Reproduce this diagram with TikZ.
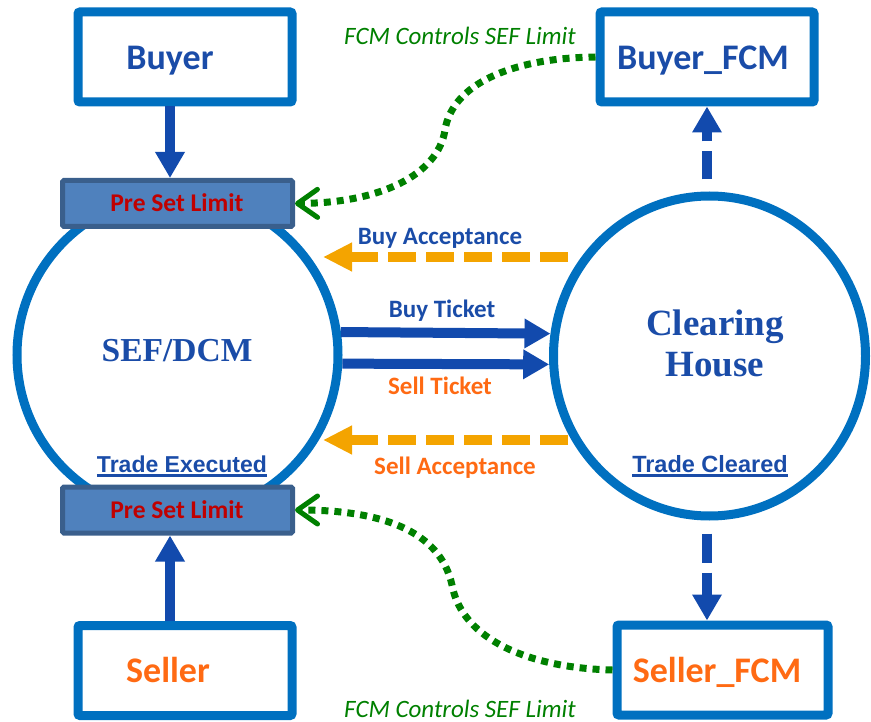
\documentclass[tikz,border=0pt]{standalone}
\usepackage{fontspec}
\setmainfont{Carlito}
\newfontfamily\serifbf{Liberation Serif}
\newfontfamily\arialf{Liberation Sans}
\usetikzlibrary{arrows.meta,calc,shapes.geometric}
\definecolor{outline}{HTML}{0070C0}
\definecolor{arrblue}{HTML}{124AAD}
\definecolor{txtblue}{HTML}{1A4CA8}
\definecolor{orangearr}{HTML}{F4A400}
\definecolor{orangetxt}{HTML}{FF6A13}
\definecolor{limred}{HTML}{C00000}
\definecolor{limfill}{HTML}{4F81BD}
\definecolor{limdraw}{HTML}{3A5F8C}
\definecolor{fcmgreen}{HTML}{008000}
\tikzset{
  partybox/.style={draw=outline, line width=9pt, minimum width=214pt, minimum height=90pt, rounded corners=2pt, inner sep=0pt},
  limitbox/.style={draw=limdraw, fill=limfill, line width=5pt, minimum width=230pt, minimum height=46pt, rounded corners=1.5pt, inner sep=0pt},
  hubcircle/.style={draw=outline, line width=9pt, circle, minimum size=321pt, inner sep=0pt},
  hubellipse/.style={draw=outline, line width=9pt, ellipse, minimum width=312pt, minimum height=320pt, inner sep=0pt},
  nametext/.style={font=\fontsize{36}{40}\selectfont\bfseries, anchor=base, inner sep=0pt},
  hubtext/.style={font=\serifbf\fontsize{36}{40}\selectfont\bfseries, text=txtblue, anchor=base, inner sep=0pt},
  limtext/.style={font=\fontsize{25.5}{28}\selectfont\bfseries, text=limred, anchor=base, inner sep=0pt},
  lbl/.style={font=\fontsize{25}{30}\selectfont\bfseries, anchor=base, inner sep=0pt},
  tradelbl/.style={font=\arialf\fontsize{23}{26}\selectfont\bfseries, text=txtblue, anchor=base, inner sep=0pt},
  fcmlbl/.style={font=\fontsize{25}{30}\selectfont\itshape, text=fcmgreen, anchor=base, inner sep=0pt},
  bluearr/.style={draw=arrblue, line width=10pt, -{Triangle[length=26pt,width=28pt]}},
  orangedash/.style={draw=orangearr, line width=9.5pt, dash pattern=on 28pt off 10pt, -{Triangle[length=29pt,width=27pt]}},
  fcmlink/.style={draw=fcmgreen, line width=7pt, dash pattern=on 7pt off 6pt, -{Straight Barb[length=20pt,width=28pt,line width=5pt,round]}},
  uline/.style={draw=txtblue, line width=2.5pt}
}
\begin{document}
\begin{tikzpicture}[x=1pt,y=-1pt]
\useasboundingbox (0,0) rectangle (871,722);
% hubs
\node[hubcircle] (sef) at (177.5,355) {};
\node[hubellipse] (ch) at (709.5,356) {};
% boxes
\node[partybox] (buyer) at (185,57) {};
\node[partybox] (seller) at (185,670.5) {};
\node[partybox] (bfcm) at (707,57) {};
\node[partybox, minimum width=211pt] (sfcm) at (722.5,670) {};
\node[limitbox] (lim1) at (177.5,203.5) {};
\node[limitbox] (lim2) at (177.5,510) {};
% texts
\node[nametext, text=txtblue] (tbuyer) at (170,70) {Buyer};
\node[nametext, text=orangetxt] (tseller) at (168,682) {Seller};
\node[nametext, text=txtblue] (tbfcm) at (703,70) {Buyer\_FCM};
\node[nametext, text=orangetxt] (tsfcm) at (717,682) {Seller\_FCM};
\node[limtext] (tlim1) at (177,212) {Pre Set Limit};
\node[limtext] (tlim2) at (177,518) {Pre Set Limit};
\node[hubtext, font=\serifbf\fontsize{33.5}{40}\selectfont\bfseries] (tsef) at (177,362) {SEF/DCM};
\node[hubtext, font=\serifbf\fontsize{37}{40}\selectfont\bfseries] (tch1) at (715,335) {Clearing};
\node[hubtext, font=\serifbf\fontsize{37}{40}\selectfont\bfseries] (tch2) at (715,377) {House};
\node[tradelbl] (te) at (182,472) {Trade Executed};
\node[tradelbl, font=\arialf\fontsize{23.5}{26}\selectfont\bfseries] (tc) at (710,472) {Trade Cleared};
\draw[uline] ([yshift=-3.5pt]te.base west) -- ([yshift=-3.5pt]te.base east);
\draw[uline] ([yshift=-3.5pt]tc.base west) -- ([yshift=-3.5pt]tc.base east);
\node[lbl, text=txtblue] (lba) at (440,245) {Buy Acceptance};
\node[lbl, text=txtblue] (lbt) at (442,318) {Buy Ticket};
\node[lbl, text=orangetxt] (lst) at (440,394) {Sell Ticket};
\node[lbl, text=orangetxt] (lsa) at (455,474) {Sell Acceptance};
\node[fcmlbl] (f1) at (460,45) {FCM Controls SEF Limit};
\node[fcmlbl] (f2) at (460,717) {FCM Controls SEF Limit};
% solid blue arrows
\draw[bluearr] ($(buyer.south)+(-15,0)$) coordinate (b1) -- (b1 |- lim1.north);
\draw[bluearr] ($(seller.north)+(-15,0)$) coordinate (s1) -- (s1 |- lim2.south);
\draw[bluearr] (sef.8) -- (ch.172);
\draw[bluearr] (sef.-3) -- (ch.183);
% dashed blue arrows
\draw[bluearr, dash pattern=on 28pt off 10pt] ($(bfcm.south)+(0,73)$) -- (bfcm.south);
\draw[bluearr, dash pattern=on 29pt off 10pt] ($(ch.south)+(-2.5,13)$) coordinate (c1) -- (c1 |- sfcm.north);
% orange acceptance arrows
\draw[orangedash] ($(ch.west)+(19,-99)$) -- ($(sef.east)+(-19.5,-98)$);
\draw[orangedash] ($(ch.west)+(19,84)$) -- ($(sef.east)+(-19.5,85)$);
% green FCM control links
\draw[fcmlink] (bfcm.west) .. controls (510,58) and (452,85) .. (445,130) .. controls (438,175) and (380,203) .. (lim1.east);
\draw[fcmlink] (sfcm.west) .. controls (530,668) and (462,640) .. (452,585) .. controls (440,530) and (380,510) .. (lim2.east);
\end{tikzpicture}
\end{document}
